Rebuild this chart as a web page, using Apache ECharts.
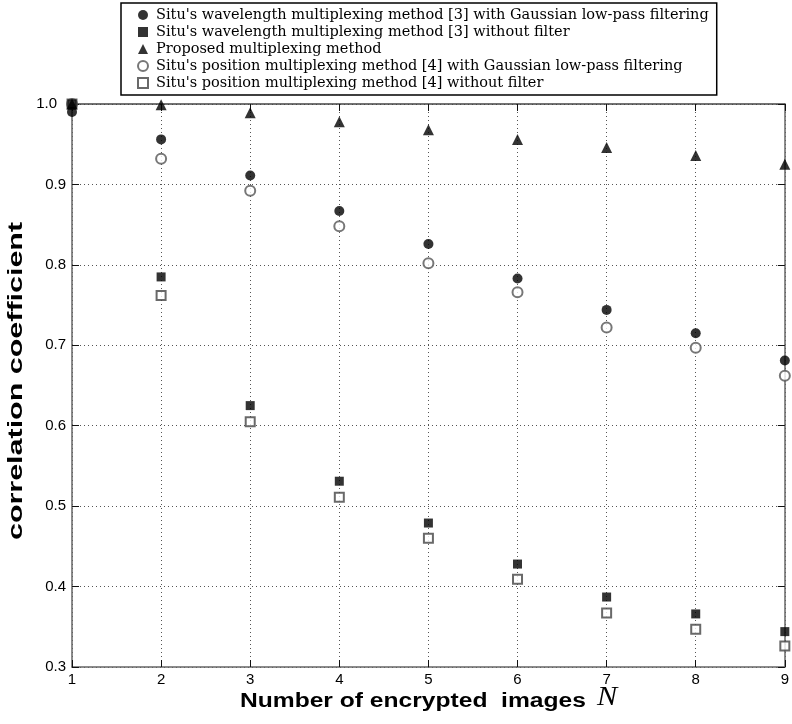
<!DOCTYPE html>
<html>
<head>
<meta charset="utf-8">
<script src="https://cdn.jsdelivr.net/npm/echarts@6/dist/echarts.min.js"></script>
<style>
html,body{margin:0;padding:0;background:#fff;}
#chart{width:792px;height:724px;}
</style>
</head>
<body>
<div id="chart"></div>
<script>
const N = [1, 2, 3, 4, 5, 6, 7, 8, 9];
const wlFilter   = [0.990, 0.956, 0.911, 0.867, 0.826, 0.783, 0.744, 0.715, 0.681];
const wlNoFilter = [1.000, 0.785, 0.625, 0.531, 0.479, 0.428, 0.387, 0.366, 0.344];
const proposed   = [1.000, 0.999, 0.989, 0.978, 0.968, 0.956, 0.946, 0.936, 0.925];
const posFilter  = [1.000, 0.932, 0.892, 0.848, 0.802, 0.766, 0.722, 0.697, 0.662];
const posNoFilter= [1.000, 0.762, 0.605, 0.511, 0.460, 0.409, 0.367, 0.347, 0.326];
const seriesNames = [
  "Situ's wavelength multiplexing method [3] with Gaussian low-pass filtering",
  "Situ's wavelength multiplexing method [3] without filter",
  "Proposed multiplexing method",
  "Situ's position multiplexing method [4] with Gaussian low-pass filtering",
  "Situ's position multiplexing method [4] without filter"
];
const xTitle = "Number of encrypted  images";
const xTitleVar = "N";
const yTitle = "correlation coefficient";

function pairs(vals){ return N.map((n,i)=>[n, vals[i]]); }

const chart = echarts.init(document.getElementById('chart'), null, {renderer:'canvas'});
const axisCol = '#666';
const gridLine = {show:true, lineStyle:{color:'#555', type:[1,3], width:1}};
const tickStyle = {show:true, inside:true, length:7, lineStyle:{color:'#111', width:1}};
const option = {
  backgroundColor:'#fff',
  animation:false,
  grid:{left:72, right:4, top:104, bottom:57, containLabel:false},
  legend:{
    orient:'vertical', left:121, top:3,
    padding:[3.5,8,3.5,16], itemGap:0,
    borderColor:'#000', borderWidth:1.5, backgroundColor:'#fff',
    itemWidth:10, itemHeight:10,
    textStyle:{fontFamily:'DejaVu Serif', fontSize:14.5, color:'#000', lineHeight:17, padding:[0,0,0,3]},
    data:[
      {name:seriesNames[0], icon:'circle'},
      {name:seriesNames[1], icon:'rect'},
      {name:seriesNames[2], icon:'triangle'},
      {name:seriesNames[3], icon:'emptyCircle'},
      {name:seriesNames[4], icon:'emptyRect'}
    ]
  },
  graphic:[
    {type:'text', x:16, y:381, rotation:Math.PI/2, scaleX:1.45, z:10,
      style:{text:yTitle, font:'bold 21px "Liberation Sans"', fill:'#000', align:'center', verticalAlign:'middle'}},
    {type:'text', x:240, y:701, scaleX:1.23, z:10,
      style:{text:xTitle, font:'bold 20px "Liberation Sans"', fill:'#000', align:'left', verticalAlign:'middle'}},
    {type:'text', x:597, y:698, scaleX:1.12, z:10,
      style:{text:xTitleVar, font:'italic 27px "Liberation Serif"', fill:'#000', align:'left', verticalAlign:'middle'}}
  ],
  xAxis:[{
    type:'value', min:1, max:9, interval:1, position:'bottom',
    axisLine:{show:true, onZero:false, lineStyle:{color:axisCol, width:1.5}},
    axisTick:tickStyle,
    axisLabel:{fontFamily:'Liberation Sans', fontSize:15, color:'#000', margin:5},
    splitLine:gridLine
  },{
    type:'value', min:1, max:9, interval:1, position:'top',
    axisLine:{show:true, onZero:false, lineStyle:{color:'#444', width:1.5}},
    axisTick:tickStyle,
    axisLabel:{show:false}, splitLine:{show:false}
  }],
  yAxis:[{
    type:'value', min:0.3, max:1.0, interval:0.1, position:'left',
    axisLine:{show:true, onZero:false, lineStyle:{color:axisCol, width:1.5}},
    axisTick:tickStyle,
    axisLabel:{fontFamily:'Liberation Sans', fontSize:15, color:'#000', margin:6,
      formatter:v=> v > 0.99 ? '{t|' + v.toFixed(1) + '}' : v.toFixed(1),
      rich:{t:{fontFamily:'Liberation Sans', fontSize:15, color:'#000', padding:[0,9,0,0]}}},
    splitLine:gridLine
  },{
    type:'value', min:0.3, max:1.0, interval:0.1, position:'right',
    axisLine:{show:true, onZero:false, lineStyle:{color:axisCol, width:1.5}},
    axisTick:tickStyle,
    axisLabel:{show:false}, splitLine:{show:false}
  }],
  series:[
    {name:seriesNames[3], type:'scatter', symbol:'emptyCircle', symbolSize:10, z:2,
      itemStyle:{color:'#555', borderWidth:1}, data:pairs(posFilter)},
    {name:seriesNames[4], type:'scatter', symbol:'emptyRect', symbolSize:9, z:2,
      itemStyle:{color:'#444', borderWidth:1}, data:pairs(posNoFilter)},
    {name:seriesNames[0], type:'scatter', symbol:'circle', symbolSize:10, z:3,
      itemStyle:{color:'#000'}, data:pairs(wlFilter)},
    {name:seriesNames[1], type:'scatter', symbol:'rect', symbolSize:9, z:3,
      itemStyle:{color:'#000'}, data:pairs(wlNoFilter)},
    {name:seriesNames[2], type:'scatter', symbol:'triangle', symbolSize:11, z:4,
      itemStyle:{color:'#000'}, data:pairs(proposed)}
  ]
};
chart.setOption(option);
</script>
</body>
</html>
